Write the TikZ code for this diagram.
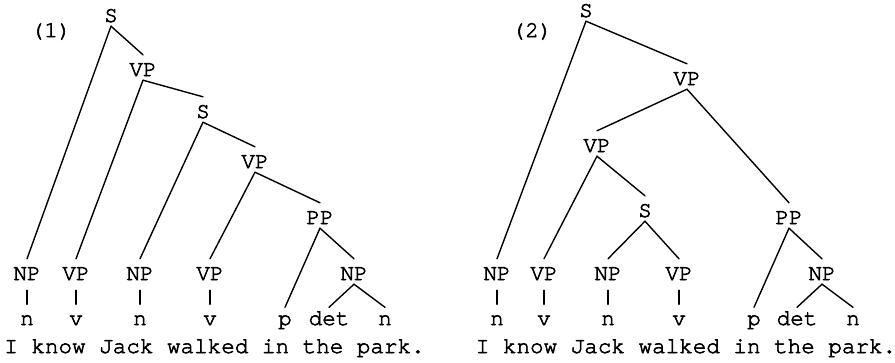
\documentclass[tikz,border=0pt]{standalone}
\usepackage{fontspec}
\newfontfamily\treefont{TeX Gyre Cursor}[FakeBold=2.5]
\begin{document}
\begin{tikzpicture}[x=1pt, y=-1pt,
  cat/.style={font=\treefont\fontsize{22.6}{27}\selectfont, inner xsep=1pt, inner ysep=4pt,
              text height=17pt, text depth=0pt, anchor=base},
  leaf/.style={cat, text height=13.5pt},
  topcat/.style={cat, text height=13pt, inner ysep=2pt, text depth=2pt},
  word/.style={font=\treefont\fontsize{22.6}{27}\selectfont, inner sep=0pt, anchor=base},
  branch/.style={line width=1.4pt, line cap=round},
  bar/.style={branch, shorten <=6pt, shorten >=3pt}]
\useasboundingbox[fill=white] (0,0) rectangle (895,362);

% ---------- tree (1) ----------
\node[word] (lab1) at (51,37) {(1)};
\node[cat] (a-s)   at (111,22)  {S};
\node[cat] (a-vp)  at (143,76)  {VP};
\node[cat] (a-s2)  at (203,118) {S};
\node[cat] (a-vp2) at (255,168) {VP};
\node[cat] (a-pp)  at (320,224) {PP};
\node[cat] (a-np1) at (27,280)  {NP};
\node[cat] (a-vp3) at (76,280)  {VP};
\node[cat] (a-np2) at (140,280) {NP};
\node[cat] (a-vp4) at (210,280) {VP};
\node[cat] (a-np3) at (354,280) {NP};
\node[leaf] (a-n1)  at (27,325)  {n};
\node[leaf] (a-v1)  at (76,325)  {v};
\node[leaf] (a-n2)  at (140,325) {n};
\node[leaf] (a-v2)  at (210,325) {v};
\node[leaf] (a-p)   at (285,325) {p};
\node[leaf] (a-det) at (329,325) {det};
\node[leaf] (a-n3)  at (385,325) {n};
\node[word] (a-sent) at (214.5,353) {I know Jack walked in the park.};

\draw[branch] (a-s.south)   -- (a-np1.north);
\draw[branch] (a-s.south)   -- (a-vp.north);
\draw[branch] (a-vp.south)  -- (a-vp3.north);
\draw[branch] (a-vp.south)  -- (a-s2.north);
\draw[branch] (a-s2.south)  -- (a-np2.north);
\draw[branch] (a-s2.south)  -- (a-vp2.north);
\draw[branch] (a-vp2.south) -- (a-vp4.north);
\draw[branch] (a-vp2.south) -- (a-pp.north);
\draw[branch] (a-pp.south)  -- (a-p.north);
\draw[branch] (a-pp.south)  -- (a-np3.north);
\draw[branch] (a-np3.south) -- (a-det.north);
\draw[branch] (a-np3.south) -- (a-n3.north);
\draw[bar] (a-np1.south) -- (a-n1.north);
\draw[bar] (a-vp3.south) -- (a-v1.north);
\draw[bar] (a-np2.south) -- (a-n2.north);
\draw[bar] (a-vp4.south) -- (a-v2.north);

% ---------- tree (2) ----------
\node[word] (lab2) at (532,37) {(2)};
\node[topcat] (b-s) at (586,17) {S};
\node[cat] (b-vp)  at (687,85)  {VP};
\node[cat] (b-vpl) at (597,152) {VP};
\node[cat] (b-s2)  at (645,217) {S};
\node[cat] (b-pp)  at (789,224) {PP};
\node[cat] (b-np1) at (497,280) {NP};
\node[cat] (b-vp3) at (544,280) {VP};
\node[cat] (b-np2) at (608,280) {NP};
\node[cat] (b-vp4) at (679,280) {VP};
\node[cat] (b-np3) at (822,280) {NP};
\node[leaf] (b-n1)  at (497,325) {n};
\node[leaf] (b-v1)  at (544,325) {v};
\node[leaf] (b-n2)  at (608,325) {n};
\node[leaf] (b-v2)  at (679,325) {v};
\node[leaf] (b-p)   at (754,325) {p};
\node[leaf] (b-det) at (797,325) {det};
\node[leaf] (b-n3)  at (853,325) {n};
\node[word] (b-sent) at (686,353) {I know Jack walked in the park.};

\draw[branch] (b-s.south)   -- (b-np1.north);
\draw[branch] (b-s.south)   -- (b-vp.north);
\draw[branch] (b-vp.south)  -- (b-vpl.north);
\draw[branch] (b-vp.south)  -- (b-pp.north);
\draw[branch] (b-vpl.south) -- (b-vp3.north);
\draw[branch] (b-vpl.south) -- (b-s2.north);
\draw[branch] (b-s2.south)  -- (b-np2.north);
\draw[branch] (b-s2.south)  -- (b-vp4.north);
\draw[branch] (b-pp.south)  -- (b-p.north);
\draw[branch] (b-pp.south)  -- (b-np3.north);
\draw[branch] (b-np3.south) -- (b-det.north);
\draw[branch] (b-np3.south) -- (b-n3.north);
\draw[bar] (b-np1.south) -- (b-n1.north);
\draw[bar] (b-vp3.south) -- (b-v1.north);
\draw[bar] (b-np2.south) -- (b-n2.north);
\draw[bar] (b-vp4.south) -- (b-v2.north);
\end{tikzpicture}
\end{document}
